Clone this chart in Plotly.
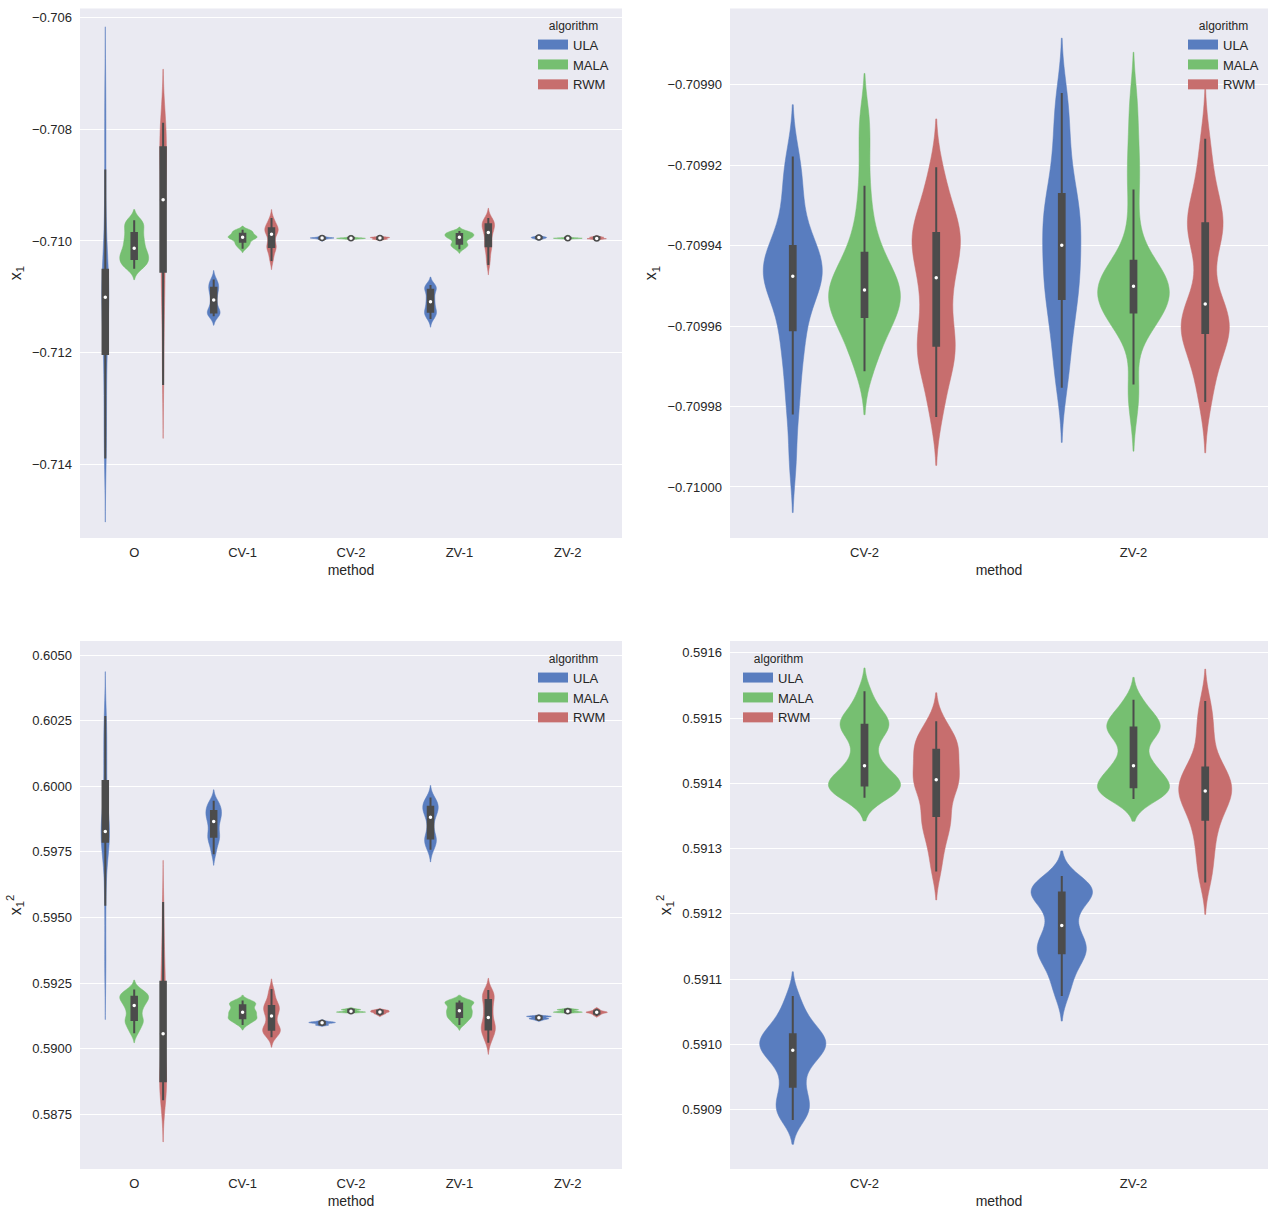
import numpy as np
import plotly.graph_objects as go

methods = ["O", "CV-1", "CV-2", "ZV-1", "ZV-2"]
zoom_methods = ["CV-2", "ZV-2"]
algorithms = ["ULA", "MALA", "RWM"]

# x_1 estimates (samples)
x1_O_ULA = [-0.71390, -0.71363, -0.71330, -0.71290, -0.71250, -0.71215, -0.71190, -0.71165,
            -0.71145, -0.71128, -0.71115, -0.71105, -0.71097, -0.71090, -0.71082, -0.71074,
            -0.71066, -0.71058, -0.71045, -0.71010, -0.70950, -0.70872, -0.70800, -0.70730]
x1_O_MALA = [-0.71050, -0.71046, -0.71043, -0.71040, -0.71037, -0.71034, -0.71031, -0.71028,
             -0.71025, -0.71022, -0.71019, -0.71016, -0.71010, -0.71006, -0.71002, -0.70998,
             -0.70993, -0.70988, -0.70983, -0.70978, -0.70973, -0.70968, -0.70965, -0.70963]
x1_O_RWM = [-0.71258, -0.71200, -0.71150, -0.71110, -0.71080, -0.71060, -0.71050, -0.71020,
            -0.70995, -0.70970, -0.70945, -0.70932, -0.70920, -0.70905, -0.70890, -0.70872,
            -0.70855, -0.70838, -0.70826, -0.70815, -0.70806, -0.70799, -0.70793, -0.70788]
x1_CV1_ULA = [-0.71135, -0.71133, -0.71131, -0.71130, -0.71129, -0.71127, -0.71124, -0.71120,
              -0.71115, -0.71109, -0.71103, -0.71098, -0.71093, -0.71089, -0.71085, -0.71083,
              -0.71080, -0.71076, -0.71072, -0.71069]
x1_CV1_MALA = [-0.71014, -0.71010, -0.71007, -0.71005, -0.71003, -0.71000, -0.70998, -0.70996,
               -0.70995, -0.70994, -0.70993, -0.70992, -0.70991, -0.70990, -0.70988, -0.70986,
               -0.70984, -0.70983, -0.70981, -0.70980]
x1_CV1_RWM = [-0.71036, -0.71028, -0.71020, -0.71015, -0.71012, -0.71010, -0.71007, -0.71003,
              -0.70996, -0.70990, -0.70986, -0.70984, -0.70982, -0.70980, -0.70978, -0.70976,
              -0.70973, -0.70970, -0.70965, -0.70959]
x1_CV2_ULA = [-0.7099178, -0.7099220, -0.7099265, -0.7099310, -0.7099355, -0.7099392,
              -0.7099410, -0.7099423, -0.7099435, -0.7099447, -0.7099458, -0.7099470,
              -0.7099482, -0.7099494, -0.7099507, -0.7099522, -0.7099540, -0.7099595,
              -0.7099625, -0.7099650, -0.7099700, -0.7099760, -0.7099820, -0.7099935]
x1_CV2_MALA = [-0.7099080, -0.7099160, -0.7099251, -0.7099320, -0.7099370, -0.7099405,
               -0.7099430, -0.7099450, -0.7099467, -0.7099482, -0.7099495, -0.7099505,
               -0.7099515, -0.7099525, -0.7099535, -0.7099546, -0.7099558, -0.7099570,
               -0.7099585, -0.7099600, -0.7099620, -0.7099645, -0.7099675, -0.7099712]
x1_CV2_RWM = [-0.7099205, -0.7099255, -0.7099295, -0.7099322, -0.7099345, -0.7099362,
              -0.7099375, -0.7099388, -0.7099402, -0.7099420, -0.7099445, -0.7099470,
              -0.7099490, -0.7099520, -0.7099555, -0.7099590, -0.7099618, -0.7099640,
              -0.7099658, -0.7099675, -0.7099695, -0.7099725, -0.7099770, -0.7099826]
x1_ZV1_ULA = [-0.71140, -0.71136, -0.71133, -0.71130, -0.71128, -0.71126, -0.71123, -0.71119,
              -0.71115, -0.71111, -0.71107, -0.71103, -0.71099, -0.71094, -0.71089, -0.71086,
              -0.71084, -0.71082, -0.71080, -0.71079]
x1_ZV1_MALA = [-0.71015, -0.71012, -0.71009, -0.71008, -0.71006, -0.71004, -0.71001, -0.70998,
               -0.70996, -0.70994, -0.70993, -0.70992, -0.70991, -0.70990, -0.70988, -0.70987,
               -0.70986, -0.70985, -0.70984, -0.70982]
x1_ZV1_RWM = [-0.71043, -0.71034, -0.71025, -0.71017, -0.71011, -0.71008, -0.71004, -0.70998,
              -0.70992, -0.70987, -0.70983, -0.70980, -0.70977, -0.70974, -0.70971, -0.70969,
              -0.70967, -0.70965, -0.70962, -0.70959]
x1_ZV2_ULA = [-0.7099020, -0.7099070, -0.7099125, -0.7099175, -0.7099220, -0.7099258,
              -0.7099285, -0.7099305, -0.7099325, -0.7099345, -0.7099365, -0.7099388,
              -0.7099410, -0.7099432, -0.7099455, -0.7099478, -0.7099500, -0.7099520,
              -0.7099545, -0.7099575, -0.7099610, -0.7099650, -0.7099700, -0.7099753]
x1_ZV2_MALA = [-0.7099040, -0.7099130, -0.7099205, -0.7099260, -0.7099351, -0.7099420,
               -0.7099455, -0.7099468, -0.7099478, -0.7099486, -0.7099492, -0.7099498,
               -0.7099504, -0.7099512, -0.7099520, -0.7099530, -0.7099545, -0.7099560,
               -0.7099572, -0.7099582, -0.7099590, -0.7099600, -0.7099745, -0.7099790]
x1_ZV2_RWM = [-0.7099134, -0.7099200, -0.7099250, -0.7099290, -0.7099318, -0.7099338,
              -0.7099350, -0.7099362, -0.7099375, -0.7099400, -0.7099470, -0.7099535,
              -0.7099555, -0.7099570, -0.7099583, -0.7099595, -0.7099604, -0.7099612,
              -0.7099622, -0.7099640, -0.7099665, -0.7099700, -0.7099745, -0.7099789]

# x_1^2 estimates
x1sq_O_ULA = [0.59280, 0.59390, 0.59545, 0.59640, 0.59740, 0.59782, 0.59795, 0.59804,
              0.59812, 0.59818, 0.59822, 0.59826, 0.59830, 0.59838, 0.59850, 0.59870,
              0.59920, 0.60000, 0.60040, 0.60090, 0.60140, 0.60190, 0.60230, 0.60268]
x1sq_O_MALA = [0.59059, 0.59075, 0.59090, 0.59100, 0.59107, 0.59112, 0.59125, 0.59140,
               0.59152, 0.59160, 0.59170, 0.59178, 0.59185, 0.59191, 0.59196, 0.59201,
               0.59205, 0.59210, 0.59217, 0.59226]
x1sq_O_RWM = [0.58804, 0.58825, 0.58840, 0.58852, 0.58862, 0.58872, 0.58881, 0.58895,
              0.58915, 0.58950, 0.59000, 0.59040, 0.59075, 0.59110, 0.59150, 0.59190,
              0.59225, 0.59245, 0.59265, 0.59300, 0.59350, 0.59410, 0.59480, 0.59559]
x1sq_CV1_ULA = [0.59741, 0.59765, 0.59783, 0.59796, 0.59805, 0.59810, 0.59822, 0.59835,
                0.59848, 0.59860, 0.59872, 0.59880, 0.59887, 0.59895, 0.59902, 0.59910,
                0.59918, 0.59926, 0.59935, 0.59945]
x1sq_CV1_MALA = [0.59091, 0.59100, 0.59107, 0.59112, 0.59115, 0.59117, 0.59122, 0.59128,
                 0.59133, 0.59137, 0.59141, 0.59145, 0.59150, 0.59156, 0.59164, 0.59168,
                 0.59172, 0.59176, 0.59180, 0.59184]
x1sq_CV1_RWM = [0.59044, 0.59055, 0.59062, 0.59067, 0.59071, 0.59074, 0.59080, 0.59090,
                0.59105, 0.59120, 0.59130, 0.59140, 0.59148, 0.59155, 0.59160, 0.59165,
                0.59175, 0.59190, 0.59208, 0.59228]
x1sq_CV2_ULA = [0.591074, 0.591055, 0.591042, 0.591032, 0.591024, 0.591018, 0.591013, 0.591009,
                0.591005, 0.591001, 0.590997, 0.590993, 0.590989, 0.590984, 0.590978, 0.590970,
                0.590958, 0.590942, 0.590928, 0.590917, 0.590908, 0.590900, 0.590892, 0.590884]
x1sq_CV2_MALA = [0.591541, 0.591522, 0.591508, 0.591500, 0.591494, 0.591491, 0.591488, 0.591483,
                 0.591475, 0.591462, 0.591445, 0.591432, 0.591422, 0.591415, 0.591410, 0.591405,
                 0.591401, 0.591398, 0.591395, 0.591392, 0.591389, 0.591386, 0.591382, 0.591378]
x1sq_CV2_RWM = [0.591495, 0.591482, 0.591472, 0.591464, 0.591458, 0.591454, 0.591449, 0.591440,
                0.591430, 0.591422, 0.591414, 0.591408, 0.591403, 0.591398, 0.591392, 0.591384,
                0.591370, 0.591355, 0.591345, 0.591338, 0.591328, 0.591312, 0.591292, 0.591265]
x1sq_ZV1_ULA = [0.59758, 0.59770, 0.59782, 0.59792, 0.59800, 0.59803, 0.59815, 0.59835,
                0.59855, 0.59875, 0.59889, 0.59898, 0.59906, 0.59913, 0.59920, 0.59925,
                0.59932, 0.59940, 0.59948, 0.59957]
x1sq_ZV1_MALA = [0.59091, 0.59100, 0.59108, 0.59115, 0.59120, 0.59123, 0.59128, 0.59134,
                 0.59139, 0.59143, 0.59147, 0.59152, 0.59157, 0.59163, 0.59170, 0.59175,
                 0.59178, 0.59180, 0.59182, 0.59184]
x1sq_ZV1_RWM = [0.59023, 0.59040, 0.59053, 0.59063, 0.59070, 0.59076, 0.59084, 0.59092,
                0.59100, 0.59110, 0.59128, 0.59140, 0.59152, 0.59165, 0.59180, 0.59192,
                0.59200, 0.59207, 0.59215, 0.59224]
x1sq_ZV2_ULA = [0.591258, 0.591250, 0.591244, 0.591240, 0.591237, 0.591234, 0.591231, 0.591227,
                0.591222, 0.591214, 0.591202, 0.591188, 0.591176, 0.591166, 0.591158, 0.591152,
                0.591147, 0.591142, 0.591137, 0.591130, 0.591120, 0.591108, 0.591092, 0.591074]
x1sq_ZV2_MALA = [0.591528, 0.591514, 0.591504, 0.591496, 0.591490, 0.591487, 0.591484, 0.591479,
                 0.591472, 0.591460, 0.591442, 0.591430, 0.591424, 0.591417, 0.591411, 0.591406,
                 0.591401, 0.591396, 0.591392, 0.591389, 0.591386, 0.591383, 0.591380, 0.591376]
x1sq_ZV2_RWM = [0.591526, 0.591502, 0.591482, 0.591465, 0.591440, 0.591428, 0.591420, 0.591415,
                0.591407, 0.591400, 0.591394, 0.591390, 0.591386, 0.591381, 0.591375, 0.591368,
                0.591360, 0.591350, 0.591338, 0.591324, 0.591308, 0.591290, 0.591270, 0.591248]

x1_data = {
    ("O", "ULA"): x1_O_ULA, ("O", "MALA"): x1_O_MALA, ("O", "RWM"): x1_O_RWM,
    ("CV-1", "ULA"): x1_CV1_ULA, ("CV-1", "MALA"): x1_CV1_MALA, ("CV-1", "RWM"): x1_CV1_RWM,
    ("CV-2", "ULA"): x1_CV2_ULA, ("CV-2", "MALA"): x1_CV2_MALA, ("CV-2", "RWM"): x1_CV2_RWM,
    ("ZV-1", "ULA"): x1_ZV1_ULA, ("ZV-1", "MALA"): x1_ZV1_MALA, ("ZV-1", "RWM"): x1_ZV1_RWM,
    ("ZV-2", "ULA"): x1_ZV2_ULA, ("ZV-2", "MALA"): x1_ZV2_MALA, ("ZV-2", "RWM"): x1_ZV2_RWM,
}
x1sq_data = {
    ("O", "ULA"): x1sq_O_ULA, ("O", "MALA"): x1sq_O_MALA, ("O", "RWM"): x1sq_O_RWM,
    ("CV-1", "ULA"): x1sq_CV1_ULA, ("CV-1", "MALA"): x1sq_CV1_MALA, ("CV-1", "RWM"): x1sq_CV1_RWM,
    ("CV-2", "ULA"): x1sq_CV2_ULA, ("CV-2", "MALA"): x1sq_CV2_MALA, ("CV-2", "RWM"): x1sq_CV2_RWM,
    ("ZV-1", "ULA"): x1sq_ZV1_ULA, ("ZV-1", "MALA"): x1sq_ZV1_MALA, ("ZV-1", "RWM"): x1sq_ZV1_RWM,
    ("ZV-2", "ULA"): x1sq_ZV2_ULA, ("ZV-2", "MALA"): x1sq_ZV2_MALA, ("ZV-2", "RWM"): x1sq_ZV2_RWM,
}

colors = {"ULA": "#597DBF", "MALA": "#76BF71", "RWM": "#C76E6E"}
box_color = "#4C4C4C"
text_color = "#262626"
slot = 0.8 / 3     # seaborn dodge width per hue level
bw_factor = 0.35   # kde bandwidth relative to sample std

panels = [
    dict(n="1", ax="", cats=methods, data=x1_data, legend="legend", box_w=0.19),
    dict(n="2", ax="2", cats=zoom_methods, data=x1_data, legend="legend2", box_w=0.08),
    dict(n="3", ax="3", cats=methods, data=x1sq_data, legend="legend3", box_w=0.19),
    dict(n="4", ax="4", cats=zoom_methods, data=x1sq_data, legend="legend4", box_w=0.08),
]

fig = go.Figure()
for p in panels:
    # legend patches (thick line swatches look like seaborn's rectangles)
    for a in algorithms:
        fig.add_trace(go.Scatter(
            x=[None], y=[None], mode="lines", name=a,
            xaxis="x" + p["ax"], yaxis="y" + p["ax"], legend=p["legend"],
            line=dict(color=colors[a], width=10), hoverinfo="skip",
        ))
    med_x, med_y = [], []
    for i, m in enumerate(p["cats"]):
        for j, a in enumerate(algorithms):
            vals = np.array(p["data"][(m, a)])
            pos = i + (j - 1) * slot
            fig.add_trace(go.Violin(
                x=[pos] * len(vals), y=vals,
                xaxis="x" + p["ax"], yaxis="y" + p["ax"],
                name=a, showlegend=False,
                scalegroup="p" + p["n"] + m, scalemode="width",
                bandwidth=bw_factor * vals.std(ddof=1), spanmode="soft",
                fillcolor=colors[a], line=dict(color=colors[a], width=0.5),
                points="outliers", marker=dict(opacity=0, size=1),
                box=dict(visible=True, width=p["box_w"], fillcolor=box_color,
                         line=dict(color=box_color, width=2)),
                meanline=dict(visible=False),
                hoverinfo="skip",
            ))
            med_x.append(pos)
            med_y.append(np.median(vals))
    fig.add_trace(go.Scatter(
        x=med_x, y=med_y, mode="markers",
        xaxis="x" + p["ax"], yaxis="y" + p["ax"],
        marker=dict(color="white", size=5, line=dict(color=box_color, width=1.5)),
        showlegend=False, hoverinfo="skip",
    ))

W, H = 1271, 1213
left_dom = [80 / W, 622 / W]
right_dom = [730 / W, 1268 / W]
top_dom = [1 - 538 / H, 1 - 8.5 / H]
bot_dom = [1 - 1169 / H, 1 - 641 / H]

xcommon = dict(showgrid=False, zeroline=False, showline=False, ticks="",
               ticklabelstandoff=5,
               tickfont=dict(size=13, color=text_color),
               title=dict(text="method", font=dict(size=14, color=text_color), standoff=6))
ycommon = dict(showgrid=True, gridcolor="white", gridwidth=1, zeroline=False,
               showline=False, ticks="", ticklabelstandoff=7,
               tickfont=dict(size=13, color=text_color))

x1_title = dict(text="x<sub>1</sub>", font=dict(size=16, color=text_color), standoff=6)
x1sq_title = dict(text="x<sub>1</sub><sup>2</sup>", font=dict(size=16, color=text_color), standoff=6)

leg = dict(title=dict(text="algorithm", side="top center", font=dict(size=12, color=text_color)),
           font=dict(size=13, color=text_color), bgcolor="rgba(0,0,0,0)",
           xanchor="left", yanchor="top", traceorder="normal")

fig.update_layout(
    width=W, height=H,
    margin=dict(l=0, r=0, t=0, b=0),
    paper_bgcolor="white", plot_bgcolor="#EAEAF2",
    font=dict(family="Liberation Sans, Arial, sans-serif", color=text_color),
    violinmode="overlay", violingap=0, violingroupgap=0,
    xaxis=dict(domain=left_dom, anchor="y", range=[-0.5, len(methods) - 0.5],
               tickvals=list(range(len(methods))), ticktext=methods, **xcommon),
    xaxis2=dict(domain=right_dom, anchor="y2", range=[-0.5, len(zoom_methods) - 0.5],
                tickvals=list(range(len(zoom_methods))), ticktext=zoom_methods, **xcommon),
    xaxis3=dict(domain=left_dom, anchor="y3", range=[-0.5, len(methods) - 0.5],
                tickvals=list(range(len(methods))), ticktext=methods, **xcommon),
    xaxis4=dict(domain=right_dom, anchor="y4", range=[-0.5, len(zoom_methods) - 0.5],
                tickvals=list(range(len(zoom_methods))), ticktext=zoom_methods, **xcommon),
    yaxis=dict(domain=top_dom, anchor="x", range=[-0.715324, -0.705833],
               dtick=0.002, tick0=-0.706, tickformat=".3f", title=x1_title, **ycommon),
    yaxis2=dict(domain=top_dom, anchor="x2", range=[-0.7100127, -0.7098810],
                dtick=0.00002, tick0=-0.7099, tickformat=".5f", title=x1_title, **ycommon),
    yaxis3=dict(domain=bot_dom, anchor="x3", range=[0.585419, 0.605537],
                dtick=0.0025, tick0=0.6, tickformat=".4f", title=x1sq_title, **ycommon),
    yaxis4=dict(domain=bot_dom, anchor="x4", range=[0.590809, 0.591618],
                dtick=0.0001, tick0=0.5916, tickformat=".4f", title=x1sq_title, **ycommon),
    legend=dict(x=533 / W, y=1 - 14 / H, **leg),
    legend2=dict(x=1183 / W, y=1 - 14 / H, **leg),
    legend3=dict(x=533 / W, y=1 - 647 / H, **leg),
    legend4=dict(x=738 / W, y=1 - 647 / H, **leg),
)

fig.write_html("out.html", config={"displayModeBar": False},
               post_script="document.body.style.margin='0';")
